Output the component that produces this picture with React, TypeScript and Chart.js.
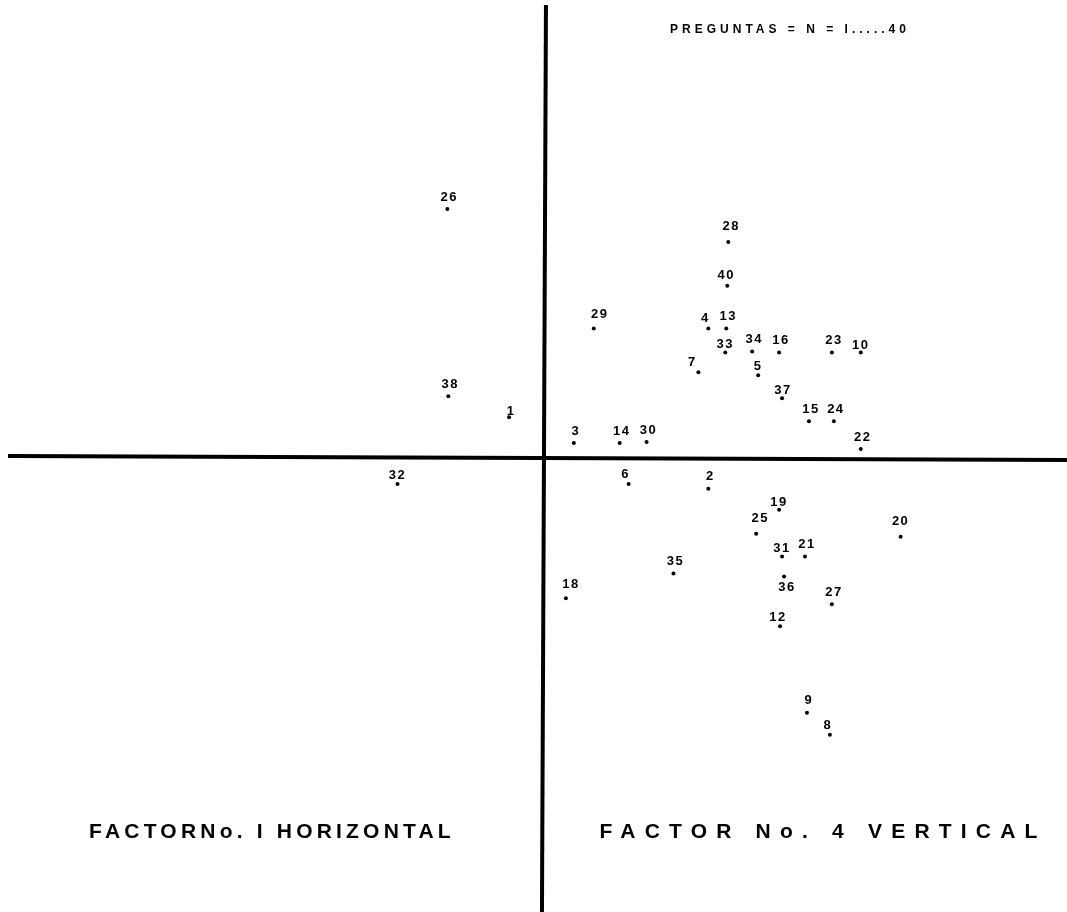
import React, { useEffect, useRef } from "react";
import { Chart, registerables } from "chart.js";

Chart.register(...registerables);

// Question numbers (preguntas) and their loadings on Factor 1 (x) and Factor 4 (y)
const questions: string[] = [
  "1", "2", "3", "4", "5", "6", "7", "8", "9", "10",
  "12", "13", "14", "15", "16", "18", "19", "20", "21", "22",
  "23", "24", "25", "26", "27", "28", "29", "30", "31", "32",
  "33", "34", "35", "36", "37", "38", "40",
];
const factor1: number[] = [
  -0.07, 0.33, 0.06, 0.33, 0.43, 0.17, 0.31, 0.574, 0.528, 0.636,
  0.474, 0.366, 0.152, 0.532, 0.472, 0.044, 0.472, 0.716, 0.524, 0.636,
  0.578, 0.582, 0.426, -0.194, 0.578, 0.37, 0.10, 0.206, 0.478, -0.294,
  0.364, 0.418, 0.26, 0.482, 0.478, -0.192, 0.368,
];
const factor4: number[] = [
  0.082, -0.062, 0.03, 0.26, 0.166, -0.052, 0.172, -0.556, -0.512, 0.212,
  -0.338, 0.26, 0.03, 0.074, 0.212, -0.282, -0.104, -0.158, -0.198, 0.018,
  0.212, 0.074, -0.152, 0.50, -0.294, 0.434, 0.26, 0.032, -0.198, -0.052,
  0.212, 0.214, -0.232, -0.238, 0.12, 0.124, 0.346,
];

const titleText = "PREGUNTAS = N = I.....40";
const xAxisText = "FACTORNo. I HORIZONTAL";
const yAxisText = "FACTOR No. 4 VERTICAL";

const W = 1067;
const H = 912;

// label offsets relative to the dot (styling only)
const labelOffsets: Record<string, [number, number]> = {
  "1": [2, -6], "5": [0, -9], "19": [0, -7], "10": [0, -7], "37": [1, -8],
  "33": [0, -8], "8": [-2, -9], "36": [3, 11], "12": [-2, -9], "31": [0, -8],
  "32": [0, -8], "20": [0, -15], "7": [-6, -10], "4": [-3, -10], "29": [6, -14],
  "28": [3, -16], "6": [-3, -9], "18": [5, -14], "25": [4, -15], "40": [-1, -10],
};

const overlayPlugin = {
  id: "overlay",
  afterDatasetsDraw(chart: any) {
    const ctx = chart.ctx as CanvasRenderingContext2D;
    const xs = chart.scales.x;
    const ys = chart.scales.y;
    const x0 = xs.getPixelForValue(0);
    const y0 = ys.getPixelForValue(0);
    ctx.save();
    // axes
    ctx.strokeStyle = "#000";
    ctx.lineCap = "butt";
    ctx.lineWidth = 4;
    ctx.beginPath();
    ctx.moveTo(8, y0 - 2);
    ctx.lineTo(W, y0 + 2);
    ctx.stroke();
    ctx.beginPath();
    ctx.moveTo(x0 + 2, 5);
    ctx.lineTo(x0 - 2, H);
    ctx.stroke();

    // point labels
    const meta = chart.getDatasetMeta(0);
    ctx.fillStyle = "#000";
    ctx.textAlign = "center";
    ctx.textBaseline = "middle";
    ctx.font = "bold 13px 'Liberation Sans', Arial, sans-serif";
    (ctx as any).letterSpacing = "1.5px";
    meta.data.forEach((pt: any, i: number) => {
      const lab = questions[i];
      const off = labelOffsets[lab] || [2, -12];
      ctx.fillText(lab, pt.x + off[0], pt.y + off[1]);
    });

    // title
    ctx.font = "bold 12px 'Liberation Sans', Arial, sans-serif";
    (ctx as any).letterSpacing = "4px";
    ctx.fillText(titleText, 790, 30);

    // axis captions
    ctx.font = "bold 21px 'Liberation Sans', Arial, sans-serif";
    (ctx as any).letterSpacing = "4.2px";
    ctx.fillText(xAxisText, 272, 832);
    (ctx as any).letterSpacing = "9.2px";
    ctx.fillText(yAxisText, 823, 832);
    ctx.restore();
  },
};

export default function App() {
  const ref = useRef<HTMLCanvasElement | null>(null);
  useEffect(() => {
    if (!ref.current) return;
    const points = questions.map((_, i) => ({ x: factor1[i], y: factor4[i] }));
    const chart = new Chart(ref.current, {
      type: "scatter",
      data: {
        datasets: [
          {
            label: "Preguntas",
            data: points,
            pointRadius: 2,
            pointHoverRadius: 2,
            pointBackgroundColor: "#000",
            pointBorderColor: "#000",
            pointBorderWidth: 0,
          },
        ],
      },
      options: {
        animation: false,
        responsive: false,
        devicePixelRatio: 1,
        layout: { padding: 0 },
        plugins: {
          legend: { display: false },
          tooltip: { enabled: false },
          title: { display: false },
        },
        scales: {
          x: { type: "linear", min: -1.088, max: 1.046, display: false },
          y: { type: "linear", min: -0.908, max: 0.916, display: false },
        },
      },
      plugins: [overlayPlugin],
    });
    return () => chart.destroy();
  }, []);
  return (
    <div style={{ position: "absolute", left: 0, top: 0, width: W, height: H, background: "#fff" }}>
      <canvas ref={ref} width={W} height={H} style={{ display: "block" }} />
    </div>
  );
}
